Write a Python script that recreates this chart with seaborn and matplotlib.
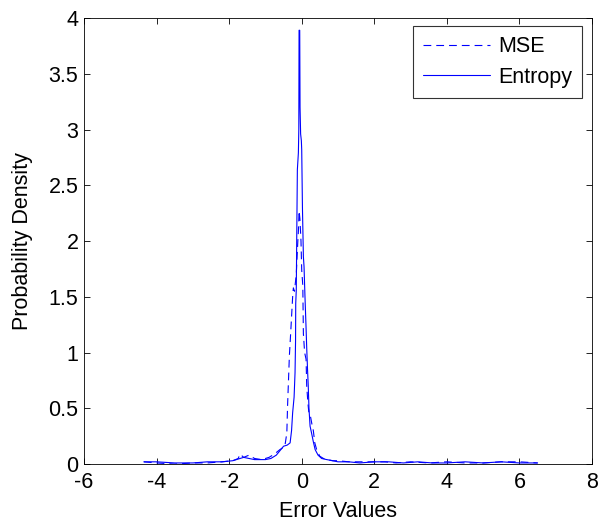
import pandas as pd
import numpy as np
import seaborn as sns
import matplotlib.pyplot as plt

# --- Data: density estimates ---
mse_x = [-4.35, -4.0, -3.5, -3.0, -2.6, -2.2, -1.9, -1.75, -1.7, -1.6, -1.45, -1.3,
         -1.1, -0.9, -0.75, -0.6, -0.5, -0.46, -0.41, -0.39, -0.34, -0.3, -0.275,
         -0.25, -0.23, -0.2, -0.15, -0.11, -0.09, -0.073, -0.05, -0.02, 0.0, 0.03,
         0.046, 0.08, 0.12, 0.138, 0.17, 0.2, 0.24, 0.28, 0.32, 0.36, 0.42, 0.5, 0.6,
         0.7, 0.85, 1.0, 1.3, 1.6, 2.0, 2.3, 2.6, 3.0, 3.5, 4.0, 4.5, 5.0, 5.5, 6.0, 6.5]
mse_y = [0.02, 0.01, 0.0, 0.01, 0.01, 0.02, 0.03, 0.05, 0.09, 0.06, 0.08, 0.05,
         0.04, 0.06, 0.09, 0.13, 0.15, 0.17, 0.28, 0.52, 0.97, 1.2, 1.35,
         1.5, 1.58, 1.55, 1.7, 1.98, 2.1, 2.27, 2.2, 2.0, 1.74, 1.6,
         1.17, 1.0, 0.94, 0.7, 0.55, 0.45, 0.43, 0.36, 0.3, 0.19, 0.12, 0.07, 0.05,
         0.04, 0.03, 0.03, 0.02, 0.02, 0.02, 0.02, 0.01, 0.02, 0.01, 0.02, 0.01, 0.01, 0.02, 0.02, 0.01]

ent_x = [-4.35, -4.0, -3.5, -3.0, -2.6, -2.2, -1.9, -1.6, -1.3, -1.0, -0.85, -0.7,
         -0.6, -0.5, -0.4, -0.32, -0.28, -0.25, -0.21, -0.184, -0.17, -0.165, -0.15,
         -0.138, -0.12, -0.092, -0.08, -0.073, -0.055, -0.046, -0.03, -0.01, 0.0,
         0.02, 0.046, 0.064, 0.09, 0.12, 0.138, 0.16, 0.18, 0.2, 0.23, 0.27, 0.32,
         0.37, 0.45, 0.55, 0.69, 0.85, 1.0, 1.3, 1.6, 2.0, 2.4, 2.8, 3.2, 3.6, 4.0,
         4.5, 5.0, 5.5, 6.0, 6.5]
ent_y = [0.02, 0.02, 0.01, 0.01, 0.02, 0.02, 0.03, 0.06, 0.04, 0.04, 0.05, 0.08,
         0.12, 0.16, 0.17, 0.19, 0.3, 0.46, 0.6, 0.82, 1.1, 1.44, 1.56,
         2.0, 2.64, 2.79, 3.0, 3.89, 3.89, 3.2, 2.96, 2.9, 2.82,
         2.3, 1.86, 1.77, 1.5, 1.22, 1.04, 0.85, 0.7, 0.5, 0.34, 0.28, 0.2,
         0.13, 0.08, 0.05, 0.04, 0.03, 0.02, 0.02, 0.01, 0.02, 0.02, 0.01, 0.02, 0.01, 0.01,
         0.02, 0.01, 0.02, 0.01, 0.01]

mse_df = pd.DataFrame({'x': mse_x, 'y': mse_y})
ent_df = pd.DataFrame({'x': ent_x, 'y': ent_y})

# --- MATLAB-like styling ---
sns.set_style("ticks")
plt.rcParams['font.family'] = ['Liberation Sans', 'DejaVu Sans']
plt.rcParams['axes.unicode_minus'] = False
plt.rcParams['text.color'] = 'black'
plt.rcParams['axes.labelcolor'] = 'black'
plt.rcParams['xtick.direction'] = 'in'
plt.rcParams['ytick.direction'] = 'in'
plt.rcParams['xtick.top'] = True
plt.rcParams['ytick.right'] = True

fs = 15.5

fig = plt.figure(figsize=(6.1, 5.22), dpi=100)
ax = fig.add_axes([0.1377, 0.111, 0.9705 - 0.1377, 0.9655 - 0.111])

sns.lineplot(data=mse_df, x='x', y='y', ax=ax, color='#0000ff', linestyle=(0, (7, 4.5)),
             linewidth=0.8, sort=False, estimator=None, label='MSE')
sns.lineplot(data=ent_df, x='x', y='y', ax=ax, color='#0000ff', linestyle='-',
             linewidth=0.8, sort=False, estimator=None, label='Entropy')

ax.set_xlim(-6, 8)
ax.set_ylim(0, 4)
ax.set_xticks(np.arange(-6, 9, 2))
ax.set_yticks(np.arange(0, 4.01, 0.5))
ax.set_yticklabels(['0', '0.5', '1', '1.5', '2', '2.5', '3', '3.5', '4'])
ax.tick_params(labelsize=fs, length=4, width=0.6, colors='black')
ax.tick_params(axis='x', pad=6)
ax.tick_params(axis='y', pad=4)
for s in ax.spines.values():
    s.set_linewidth(0.6)
    s.set_color('black')
ax.set_xlabel('Error Values', fontsize=fs, color='black')
ax.set_ylabel('Probability Density', fontsize=fs, color='black')
ax.xaxis.set_label_coords(0.5, -0.082)
ax.yaxis.set_label_coords(-0.10, 0.5)

leg = ax.legend(loc='upper right', fontsize=fs, frameon=True, fancybox=False,
                handlelength=3.1, handletextpad=0.4, borderpad=0.45,
                labelspacing=0.45, borderaxespad=0,
                bbox_to_anchor=(0.980, 0.981))
leg.get_frame().set_edgecolor('black')
leg.get_frame().set_linewidth(0.8)
for t in leg.get_texts():
    t.set_color('black')

fig.savefig('out.png', dpi=100)
